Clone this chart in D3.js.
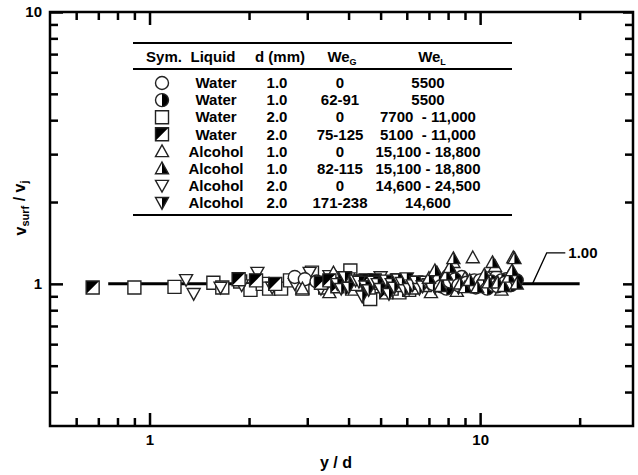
<!DOCTYPE html>
<html>
<head>
<meta charset="utf-8">
<script src="https://cdn.jsdelivr.net/npm/d3@7"></script>
<style>
  body { margin: 0; background: #fff; }
  text { font-family: "Liberation Sans", Arial, sans-serif; font-weight: bold; fill: #000; }
</style>
</head>
<body>
<div id="chart"></div>
<script>
// ---- data: [y/d, vsurf/vj] ----
var waterD1We0 = [[2.75,1.06],[2.95,1.04],[3.2,1.02],[7.4,1.04],[8.0,1.07],[8.8,1.06],[9.6,1.03],[10.4,1.05],[11.2,1.06],[12.0,1.04],[12.6,1.02]];
var waterD1WeG = [[7.2,1.0],[7.5,1.03],[7.6,0.98],[7.9,0.96],[8.1,1.02],[8.4,1.04],[8.6,0.99],[9.1,1.01],[9.4,0.98],[9.7,0.97],[10.0,1.03],[10.2,1.0],[10.5,0.96],[10.8,1.02],[11.0,0.99],[11.3,0.98],[11.6,1.03],[11.9,1.01],[12.4,0.99],[12.9,1.03]];
var waterD2We0 = [[0.9,0.97],[1.19,0.975],[1.56,1.01],[1.66,0.97],[1.88,1.02],[2.02,0.95],[2.2,1.0],[2.3,0.96],[2.5,0.96],[2.66,1.03],[2.9,0.96],[3.1,1.1],[3.4,0.97],[3.6,1.05],[4.05,1.12],[4.4,1.02],[4.65,0.88],[5.0,0.98],[5.7,0.93],[6.1,0.95]];
var waterD2WeG = [[0.673,0.97],[1.86,1.04],[2.1,1.03],[2.4,1.0],[3.3,1.01],[3.5,1.03],[3.7,0.98],[3.9,1.04],[4.1,0.96],[4.2,1.0],[4.5,1.03],[4.6,0.97],[4.8,1.03],[5.0,1.01],[5.2,0.93],[5.4,0.96],[5.6,1.03],[5.8,0.99],[6.2,0.97],[6.4,1.01],[6.8,0.99]];
var alcD1We0 = [[2.9,0.96],[3.5,0.93],[3.6,1.1],[7.1,0.93],[7.4,1.1],[7.8,1.02],[8.3,1.2],[8.5,0.94],[9.0,1.05],[9.5,1.25],[10.0,1.0],[11.1,1.16],[11.6,0.95],[12.3,1.08],[12.6,1.25]];
var alcD1WeG = [[7.0,1.05],[7.3,1.12],[7.6,0.98],[7.9,1.08],[8.1,1.15],[8.3,1.24],[8.7,1.0],[9.0,0.97],[9.3,1.03],[9.8,0.97],[10.3,1.08],[10.6,1.01],[10.9,1.2],[11.3,1.01],[11.8,0.98],[12.2,1.06],[12.5,1.12],[12.7,1.24],[12.9,1.0]];
var alcD2We0 = [[1.29,1.035],[1.36,0.92],[1.64,0.97],[1.9,0.99],[2.12,1.1],[2.35,0.97],[2.75,1.0],[3.05,1.1],[3.3,0.96],[3.5,1.07],[4.0,1.05],[4.5,0.98],[5.0,1.06]];
var alcD2WeG = [[3.7,1.0],[3.8,0.96],[3.9,1.06],[4.0,0.97],[4.2,1.03],[4.3,1.02],[4.4,0.9],[4.5,0.98],[4.6,0.95],[4.75,1.02],[4.9,1.0],[5.0,0.96],[5.2,1.03],[5.3,0.92],[5.4,1.0],[5.5,0.97],[5.65,1.04],[5.8,1.01],[5.9,0.95],[6.0,1.05],[6.1,0.96],[6.25,0.99],[6.4,1.02],[6.55,0.96],[6.7,0.98],[6.85,1.02],[7.0,1.0],[7.3,0.97],[8.0,1.0],[8.6,0.97]];

// table rows
var symbols = ["circle", "circleHalf", "square", "squareHalf", "up", "upHalf", "down", "downHalf"];
var liquids = ["Water", "Water", "Water", "Water", "Alcohol", "Alcohol", "Alcohol", "Alcohol"];
var diam = ["1.0", "1.0", "2.0", "2.0", "1.0", "1.0", "2.0", "2.0"];
var weG = ["0", "62-91", "0", "75-125", "0", "82-115", "0", "171-238"];
var weL = ["5500", "5500", "7700  - 11,000", "5100  - 11,000", "15,100 - 18,800", "15,100 - 18,800", "14,600 - 24,500", "14,600"];
var seriesData = [waterD1We0, waterD1WeG, waterD2We0, waterD2WeG, alcD1We0, alcD1WeG, alcD2We0, alcD2WeG];

var xMajor = [1, 10], xMinor = [0.6, 0.7, 0.8, 0.9, 2, 3, 4, 5, 6, 7, 8, 9, 20];
var yMajor = [1, 10], yMinor = [0.4, 0.5, 0.6, 0.7, 0.8, 0.9, 2, 3, 4, 5, 6, 7, 8, 9];
var refLine = [0.75, 20];
var leader = [[14.4, 1], [15.9, 1.3], [18.1, 1.3]];

var W = 638, H = 475;
var pLeft = 50, pRight = 633, pTop = 12, pBottom = 426;

var svg = d3.select("#chart").append("svg").attr("width", W).attr("height", H);

var x = d3.scaleLog().domain([0.5, 29]).range([pLeft, pRight]);
var y = d3.scaleLog().domain([0.3, 10]).range([pBottom, pTop]);

function axis(gen, scale, vals, size, tr, labels) {
	var g = svg.append("g").attr("transform", tr)
		.call(gen(scale).tickValues(vals).tickSize(size).tickPadding(8)
			.tickFormat(labels ? d3.format("d") : ""));
	g.select(".domain").remove();
	g.selectAll(".tick line").attr("stroke", "#000").attr("stroke-width", 2.5);
	g.selectAll(".tick text").style("font-size", "15px").style("font-family", "Liberation Sans, Arial").style("font-weight", "bold");
	return g;
}
// ticks pointing inward on all four sides
axis(d3.axisBottom, x, xMajor, -13, "translate(0," + pBottom + ")", true);
axis(d3.axisBottom, x, xMinor, -8, "translate(0," + pBottom + ")", false);
axis(d3.axisTop, x, xMajor, -13, "translate(0," + pTop + ")", false);
axis(d3.axisTop, x, xMinor, -8, "translate(0," + pTop + ")", false);
axis(d3.axisLeft, y, yMajor, -13, "translate(" + pLeft + ",0)", true);
axis(d3.axisLeft, y, yMinor, -8, "translate(" + pLeft + ",0)", false);
axis(d3.axisRight, y, yMajor, -10, "translate(" + pRight + ",0)", false);
axis(d3.axisRight, y, yMinor, -8, "translate(" + pRight + ",0)", false);

svg.append("rect")
	.attr("x", pLeft).attr("y", pTop)
	.attr("width", pRight - pLeft).attr("height", pBottom - pTop)
	.attr("fill", "none").attr("stroke", "#000").attr("stroke-width", 2.5);

// reference line at 1
svg.append("line")
	.attr("x1", x(refLine[0])).attr("x2", x(refLine[1]))
	.attr("y1", y(1)).attr("y2", y(1))
	.attr("stroke", "#000").attr("stroke-width", 3);

// marker shapes
var S = 6.5;
function shapePath(type) {
	var s = S;
	if (type.indexOf("circle") == 0) return { full: d3.arc()({innerRadius: 0, outerRadius: s, startAngle: 0, endAngle: 2 * Math.PI}), half: "M0," + (-s) + "A" + s + "," + s + " 0 0 1 0," + s + "Z" };
	if (type.indexOf("square") == 0) return { full: "M" + (-s) + "," + (-s) + "H" + s + "V" + s + "H" + (-s) + "Z", half: "M" + (-s) + "," + (-s) + "H" + s + "L" + (-s) + "," + s + "Z" };
	if (type.indexOf("up") == 0) return { full: "M0," + (-s) + "L" + s + "," + (s * 0.8) + "H" + (-s) + "Z", half: "M0," + (-s) + "L" + s + "," + (s * 0.8) + "H0Z" };
	return { full: "M" + (-s) + "," + (-s * 0.8) + "H" + s + "L0," + s + "Z", half: "M0," + (-s * 0.8) + "H" + s + "L0," + s + "Z" };
}
function drawMarker(g, type, px, py) {
	var p = shapePath(type);
	var m = g.append("g").attr("transform", "translate(" + px + "," + py + ")");
	m.append("path").attr("d", p.full).attr("fill", "#fff");
	if (type.indexOf("Half") > 0) m.append("path").attr("d", p.half).attr("fill", "#000");
	m.append("path").attr("d", p.full).attr("fill", "none").attr("stroke", "#222").attr("stroke-width", 1.4);
}

var pts = svg.append("g");
// draw order roughly: open ones first, filled on top
[2, 6, 0, 4, 3, 7, 1, 5].forEach(function (k) {
	seriesData[k].forEach(function (d) { drawMarker(pts, symbols[k], x(d[0]), y(d[1])); });
});

// "1.00" annotation
svg.append("path")
	.attr("d", d3.line()(leader.map(function (d) { return [x(d[0]), y(d[1])]; })))
	.attr("fill", "none").attr("stroke", "#000").attr("stroke-width", 1.3);
svg.append("text").attr("x", x(leader[2][0]) + 3).attr("y", y(leader[2][1])).attr("dy", "0.35em")
	.style("font-size", "15px").text("1.00");

// legend table
var tbl = svg.append("g");
var tX1 = 133, tX2 = 512;
[[43, 2.2], [69, 2], [215, 2.2]].forEach(function (l) {
	tbl.append("line").attr("x1", tX1).attr("x2", tX2).attr("y1", l[0]).attr("y2", l[0])
		.attr("stroke", "#000").attr("stroke-width", l[1]);
});
var colX = [162, 216, 277, 340, 428];
var headY = 57;
function cell(cx, cy, txt) {
	return tbl.append("text").attr("x", cx).attr("y", cy).attr("dy", "0.35em")
		.attr("text-anchor", "middle").style("font-size", "15px").text(txt);
}
cell(164, headY, "Sym.");
cell(213, headY, "Liquid");
cell(280, headY, "d (mm)");
var h1 = cell(342, headY, "We");
h1.append("tspan").attr("dy", "0.25em").style("font-size", "9px").text("G");
var h2 = cell(432, headY, "We");
h2.append("tspan").attr("dy", "0.25em").style("font-size", "9px").text("L");

symbols.forEach(function (s, i) {
	var ry = 83 + i * 17.1;
	drawMarker(tbl, s, colX[0], ry);
	cell(colX[1], ry, liquids[i]);
	cell(colX[2], ry, diam[i]);
	cell(colX[3], ry, weG[i]);
	cell(colX[4], ry, weL[i]).style("white-space", "pre");
});

// axis titles
svg.append("text").attr("x", 336).attr("y", 468).attr("text-anchor", "middle")
	.style("font-size", "16px").text("y / d");
var yt = svg.append("text").attr("transform", "translate(26,208) rotate(-90)").attr("text-anchor", "middle")
	.style("font-size", "16px").style("white-space", "pre");
yt.append("tspan").text("v");
yt.append("tspan").attr("dy", "0.3em").style("font-size", "11px").text("surf");
yt.append("tspan").attr("dy", "-0.3em").text(" / v");
yt.append("tspan").attr("dy", "0.3em").style("font-size", "11px").text("j");
</script>
</body>
</html>
